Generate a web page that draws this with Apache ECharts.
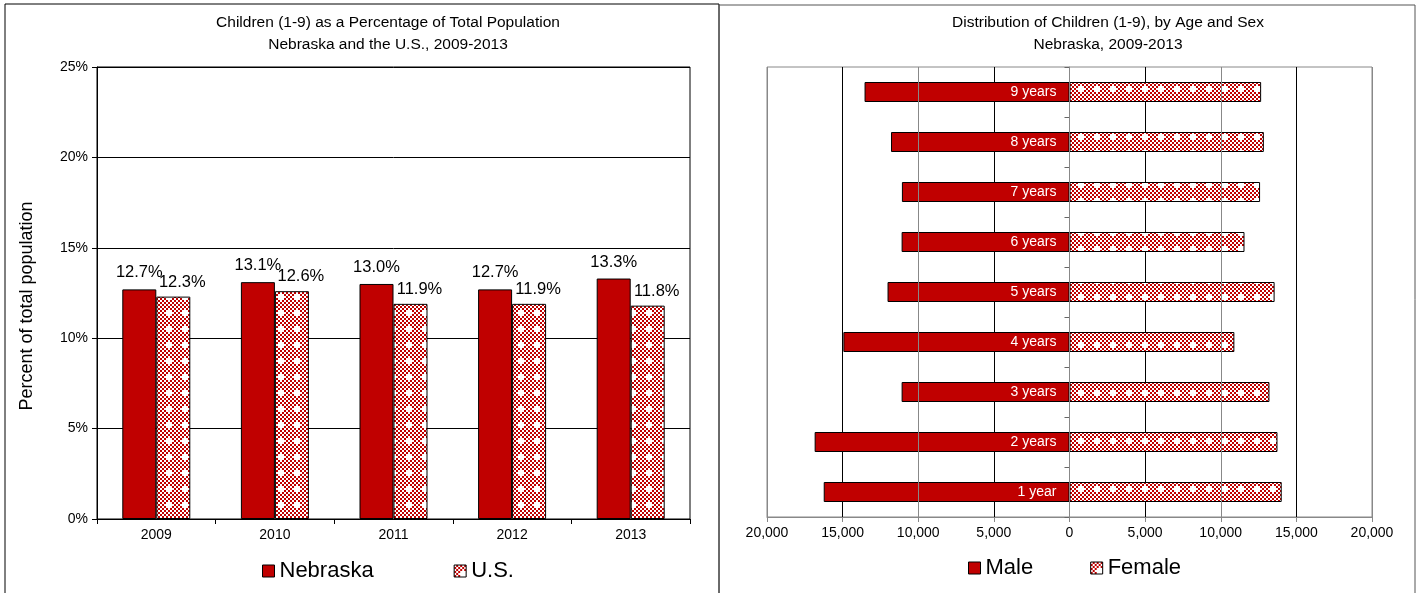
<!DOCTYPE html>
<html>
<head>
<meta charset="utf-8">
<script src="https://cdn.jsdelivr.net/npm/echarts@6/dist/echarts.min.js"></script>
<style>html,body{margin:0;padding:0;background:#fff;}#c{width:1421px;height:593px;}</style>
</head>
<body>
<div id="c"></div>
<script>
// ---- Left chart data ----
const years = ['2009', '2010', '2011', '2012', '2013'];
const nebraskaPct = [12.7, 13.1, 13.0, 12.7, 13.3];
const usPct = [12.3, 12.6, 11.9, 11.9, 11.8];
const pctTicks = [0, 5, 10, 15, 20, 25];

// ---- Right chart data ----
const ages = ['1 year', '2 years', '3 years', '4 years', '5 years', '6 years', '7 years', '8 years', '9 years'];
const maleCounts = [16250, 16850, 11100, 14950, 12030, 11100, 11080, 11800, 13550];
const femaleCounts = [14030, 13750, 13220, 10900, 13560, 11570, 12600, 12850, 12670];
const countTicks = [-20000, -15000, -10000, -5000, 0, 5000, 10000, 15000, 20000];

const RED = '#C00000';
const FONT = 'Liberation Sans, Arial, sans-serif';

// red/white checker tile (2 px cells) with a small white cross
function makePatternCanvas() {
  const cell = 2, n = 8 * cell;
  const c = document.createElement('canvas');
  c.width = n; c.height = n;
  const g = c.getContext('2d');
  g.fillStyle = RED; g.fillRect(0, 0, n, n);
  g.fillStyle = '#ffffff';
  for (let y = 0; y < 8; y++) for (let x = 0; x < 8; x++) if ((x + y) % 2 === 0) g.fillRect(x * cell, y * cell, cell, cell);
  [[4, 3], [3, 4], [5, 4], [4, 5]].forEach(p => g.fillRect(p[0] * cell, p[1] * cell, cell, cell));
  return c;
}
const PATTERN_CANVAS = makePatternCanvas();
function pattern() { return { image: PATTERN_CANVAS, repeat: 'repeat' }; }

const chart = echarts.init(document.getElementById('c'), null, { renderer: 'canvas' });

const axisFont = 14;

const option = {
  animation: false,
  textStyle: { fontFamily: FONT, color: '#000' },
  graphic: [
    { type: 'rect', shape: { x: 5, y: 4, width: 714, height: 620 }, style: { fill: 'none', stroke: '#000', lineWidth: 1 }, silent: true },
    { type: 'rect', shape: { x: 719, y: 5, width: 696, height: 620 }, style: { fill: 'none', stroke: '#555', lineWidth: 1 }, silent: true },
    { type: 'text', x: 388, y: 12, style: { text: 'Children (1-9) as a Percentage of Total Population\nNebraska and the U.S., 2009-2013', textAlign: 'center', font: '15.5px ' + FONT, fill: '#000', lineHeight: 22 } },
    { type: 'text', x: 1108, y: 12, style: { text: 'Distribution of Children (1-9), by Age and Sex\nNebraska, 2009-2013', textAlign: 'center', font: '15.5px ' + FONT, fill: '#000', lineHeight: 22 } },
    { type: 'text', x: 27, y: 306, rotation: Math.PI / 2, style: { text: 'Percent of total population', textAlign: 'center', textVerticalAlign: 'middle', font: '18px ' + FONT, fill: '#000' } }
  ],
  legend: [
    {
      left: 262, top: 560, padding: 0, itemWidth: 12, itemHeight: 12, itemGap: 80, icon: 'rect',
      textStyle: { fontSize: 22, fontFamily: FONT, color: '#000' },
      data: [
        { name: 'Nebraska', itemStyle: { color: RED, borderColor: '#000', borderWidth: 1 } },
        { name: 'U.S.', itemStyle: { color: pattern(), borderColor: '#000', borderWidth: 1 } }
      ]
    },
    {
      left: 968, top: 557, padding: 0, itemWidth: 12, itemHeight: 12, itemGap: 57, icon: 'rect',
      textStyle: { fontSize: 22, fontFamily: FONT, color: '#000' },
      data: [
        { name: 'Male', itemStyle: { color: RED, borderColor: '#000', borderWidth: 1 } },
        { name: 'Female', itemStyle: { color: pattern(), borderColor: '#000', borderWidth: 1 } }
      ]
    }
  ],
  grid: [
    { left: 97, top: 67, width: 593, height: 452, show: true, borderColor: '#000', borderWidth: 1, backgroundColor: 'transparent' },
    { left: 767, top: 67, width: 605, height: 450, show: true, borderColor: '#888', borderWidth: 1, backgroundColor: 'transparent' }
  ],
  xAxis: [
    {
      type: 'category', gridIndex: 0, data: years,
      axisLine: { lineStyle: { color: '#000' } },
      axisTick: { show: true, length: 5, lineStyle: { color: '#000' } },
      axisLabel: { fontSize: axisFont, color: '#000', margin: 9 },
      splitLine: { show: false }
    },
    {
      type: 'value', gridIndex: 1, min: countTicks[0], max: countTicks[countTicks.length - 1], interval: countTicks[1] - countTicks[0],
      axisLine: { show: true, onZero: false, lineStyle: { color: '#888' } },
      axisTick: { show: true, length: 5, lineStyle: { color: '#888' } },
      axisLabel: { fontSize: axisFont, color: '#000', margin: 9, formatter: v => Math.abs(v).toLocaleString('en-US') },
      splitLine: { show: true, lineStyle: { color: '#000', width: 1 } }
    },
    {
      type: 'value', gridIndex: 1, min: countTicks[0], max: countTicks[countTicks.length - 1], interval: 2 * (countTicks[1] - countTicks[0]),
      z: 5,
      axisLine: { show: false }, axisTick: { show: false }, axisLabel: { show: false },
      splitLine: { show: true, lineStyle: { color: '#888', width: 1 } }
    }
  ],
  yAxis: [
    {
      type: 'value', gridIndex: 0, min: pctTicks[0], max: pctTicks[pctTicks.length - 1], interval: pctTicks[1] - pctTicks[0],
      axisLine: { show: true, lineStyle: { color: '#000' } },
      axisTick: { show: true, length: 5, lineStyle: { color: '#000' } },
      axisLabel: { fontSize: axisFont, color: '#000', formatter: '{value}%', margin: 9 },
      splitLine: { show: true, lineStyle: { color: '#000', width: 1 } }
    },
    {
      type: 'category', gridIndex: 1, data: ages,
      axisLine: { show: true, onZero: true, lineStyle: { color: '#888' } },
      axisTick: { show: true, length: 5, lineStyle: { color: '#666' } },
      axisLabel: { show: false },
      splitLine: { show: false }
    }
  ],
  series: [
    {
      name: 'Nebraska', type: 'bar', xAxisIndex: 0, yAxisIndex: 0, data: nebraskaPct,
      barWidth: 34, barGap: '0%',
      itemStyle: { color: RED, borderColor: '#000', borderWidth: 1 },
      label: { show: true, position: 'top', distance: 8, fontSize: 16.5, color: '#000', fontFamily: FONT, formatter: p => p.value.toFixed(1) + '%' }
    },
    {
      name: 'U.S.', type: 'bar', xAxisIndex: 0, yAxisIndex: 0, data: usPct,
      barWidth: 34, barGap: '0%',
      itemStyle: { color: pattern(), borderColor: '#000', borderWidth: 1 },
      label: { show: true, position: 'top', distance: 6, offset: [9, 0], fontSize: 16.5, color: '#000', fontFamily: FONT, formatter: p => p.value.toFixed(1) + '%' }
    },
    {
      name: 'Male', type: 'bar', xAxisIndex: 1, yAxisIndex: 1, data: maleCounts.map(v => -v),
      barWidth: 20, barGap: '-100%',
      itemStyle: { color: RED, borderColor: '#000', borderWidth: 1 },
      label: { show: true, position: 'insideRight', distance: 13, fontSize: 14, color: '#fff', fontFamily: FONT, formatter: p => p.name }
    },
    {
      name: 'Female', type: 'bar', xAxisIndex: 1, yAxisIndex: 1, data: femaleCounts,
      barWidth: 20, barGap: '-100%',
      itemStyle: { color: pattern(), borderColor: '#000', borderWidth: 1 }
    }
  ]
};
chart.setOption(option);
</script>
</body>
</html>
